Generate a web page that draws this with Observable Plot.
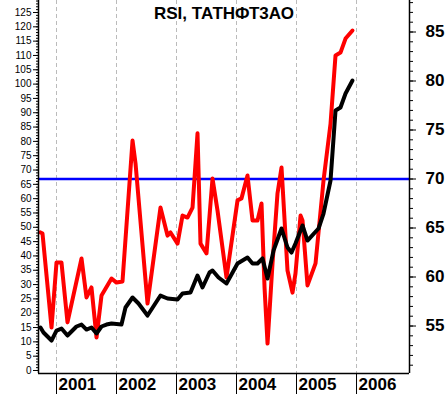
<!DOCTYPE html>
<html><head><meta charset="utf-8">
<script src="https://cdn.jsdelivr.net/npm/d3@7"></script>
<script src="https://cdn.jsdelivr.net/npm/@observablehq/plot@0.6"></script>
<style>body{margin:0;background:#fff;} svg{display:block}</style>
</head><body><div id="chart"></div>
<script>
const title = "RSI, ТАТНФТ3АО";
const years = [2001, 2002, 2003, 2004, 2005, 2006];
const leftTicks = d3.range(0, 126, 5);
const rightTicks = [55, 60, 65, 70, 75, 80, 85];
const level = 70;

// RSI (left axis)
const rsiTime = [2000.733, 2000.767, 2000.917, 2001.0, 2001.083, 2001.183, 2001.417, 2001.5, 2001.583, 2001.667, 2001.75, 2001.917, 2002.0, 2002.1, 2002.267, 2002.317, 2002.517, 2002.733, 2002.85, 2002.9, 2003.017, 2003.1, 2003.183, 2003.267, 2003.35, 2003.4, 2003.5, 2003.6, 2003.683, 2003.833, 2004.017, 2004.083, 2004.183, 2004.267, 2004.35, 2004.417, 2004.467, 2004.517, 2004.6, 2004.683, 2004.75, 2004.85, 2004.933, 2004.983, 2005.067, 2005.1, 2005.183, 2005.317, 2005.45, 2005.567, 2005.65, 2005.733, 2005.817, 2005.933];
const rsiValue = [48.2, 47.8, 15.0, 37.7, 37.7, 16.8, 39.1, 25.5, 29.0, 11.5, 26.2, 32.1, 30.7, 31.1, 80.3, 72.3, 23.4, 56.9, 47.1, 48.2, 44.3, 54.1, 53.4, 56.9, 82.8, 44.3, 40.9, 67.0, 55.9, 32.5, 59.4, 60.1, 68.1, 52.4, 52.4, 58.3, 29.0, 9.4, 37.4, 61.8, 70.9, 34.9, 27.2, 33.9, 54.1, 52.4, 29.7, 37.4, 66.3, 86.2, 110.0, 111.0, 115.9, 118.7];

// Price (right axis)
const priceTime = [2000.733, 2000.783, 2000.917, 2001.0, 2001.083, 2001.183, 2001.333, 2001.417, 2001.5, 2001.583, 2001.667, 2001.75, 2001.833, 2001.917, 2002.083, 2002.15, 2002.267, 2002.367, 2002.517, 2002.733, 2002.85, 2003.017, 2003.1, 2003.233, 2003.35, 2003.433, 2003.55, 2003.6, 2003.7, 2003.833, 2004.017, 2004.183, 2004.267, 2004.35, 2004.433, 2004.517, 2004.617, 2004.75, 2004.85, 2004.917, 2004.983, 2005.1, 2005.183, 2005.367, 2005.45, 2005.567, 2005.65, 2005.733, 2005.817, 2005.933];
const priceValue = [54.85, 54.34, 53.52, 54.54, 54.74, 54.03, 54.95, 55.15, 54.64, 54.85, 54.24, 54.95, 55.15, 55.26, 55.15, 56.89, 57.91, 57.30, 56.07, 58.11, 57.81, 57.70, 58.32, 58.42, 60.15, 58.93, 60.46, 60.66, 59.95, 59.34, 61.38, 61.99, 61.38, 61.38, 61.89, 59.85, 62.70, 64.95, 63.01, 62.50, 63.42, 65.26, 63.72, 64.95, 66.48, 69.85, 76.99, 77.30, 78.72, 80.05];

// secondary (right) axis mapping onto the RSI scale
const toV = p => 66.86 + 3.422 * (p - 70);
const fromV = v => (v - 66.86) / 3.422 + 70;

const rsi = rsiTime.map((t, i) => ({t, v: rsiValue[i]}));
const price = priceTime.map((t, i) => ({t, v: toV(priceValue[i])}));

const xDom = [2000.7, 2006.883];
const yDom = [-1.05, 129.19];
const font = "'Liberation Sans', Arial, sans-serif";

const chart = Plot.plot({
  width: 447,
  height: 394,
  marginLeft: 38,
  marginRight: 38,
  marginTop: 0,
  marginBottom: 21,
  style: {fontFamily: font, background: "white", overflow: "visible", color: "black"},
  x: {domain: xDom},
  y: {domain: yDom},
  marks: [
    Plot.ruleX(years, {stroke: "#bbb", strokeDasharray: "4,3", strokeWidth: 1}),
    Plot.ruleY([toV(level)], {stroke: "#0000ff", strokeWidth: 2.5}),
    Plot.line(rsi, {x: "t", y: "v", stroke: "#ff0000", strokeWidth: 4, strokeLinejoin: "round", strokeLinecap: "round"}),
    Plot.line(price, {x: "t", y: "v", stroke: "#000", strokeWidth: 4, strokeLinejoin: "round", strokeLinecap: "round"}),
    // frame lines
    Plot.ruleX([xDom[0], xDom[1]], {stroke: "black", strokeWidth: 1.5}),
    Plot.ruleY([yDom[0]], {stroke: "black", strokeWidth: 1.5}),
    // left axis
    Plot.axisY({anchor: "left", ticks: d3.range(0, 130, 1), tickSize: 2, tickFormat: () => "", label: null}),
    Plot.axisY({anchor: "left", ticks: leftTicks, tickSize: 5, tickPadding: 2, fontSize: 10, label: null}),
    // right axis
    Plot.axisY({anchor: "right", ticks: d3.range(51, 89, 1).map(toV), tickSize: 3, tickFormat: () => "", label: null}),
    Plot.axisY({anchor: "right", ticks: rightTicks.map(toV), tickSize: 6, tickPadding: 10, fontSize: 17, fontWeight: "bold", tickFormat: d => String(Math.round(fromV(d))), label: null}),
    // x separators and labels
    Plot.axisX({ticks: years, tickSize: 21, tickFormat: () => "", label: null}),
    Plot.text(years, {x: d => d, y: yDom[0], text: d => String(d), textAnchor: "start", dx: 2, dy: 11, fontSize: 17, fontWeight: "bold", lineAnchor: "middle"}),
    Plot.text([title], {frameAnchor: "top", dy: 13, fontSize: 17, fontWeight: "bold", lineAnchor: "middle"})
  ]
});
document.getElementById("chart").appendChild(chart);
</script>
</body></html>
